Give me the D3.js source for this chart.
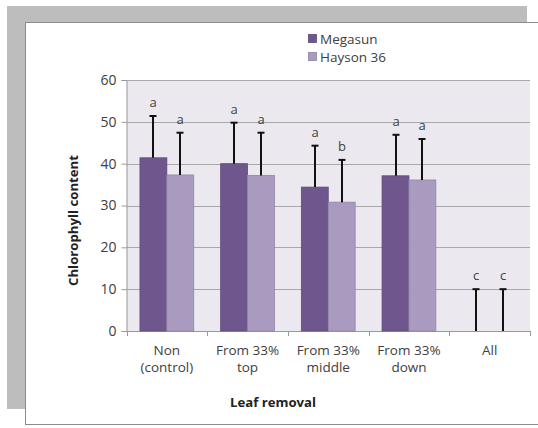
<!DOCTYPE html>
<html><head><meta charset="utf-8">
<script src="https://cdn.jsdelivr.net/npm/d3@7"></script>
<style>body{margin:0;background:#fff}svg{display:block}text{font-family:"Open Sans",sans-serif}</style>
</head><body><svg id="c" width="538" height="428"></svg>
<script>
const categories = [["Non","(control)"],["From 33%","top"],["From 33%","middle"],["From 33%","down"],["All"]];
const series = ["Megasun","Hayson 36"];
const megasun = [41.4, 40.0, 34.4, 37.1, 0];
const hayson = [37.3, 37.2, 30.8, 36.1, 0];
const megasunErr = [51.4, 49.8, 44.3, 46.9, 10.0];
const haysonErr = [47.4, 47.4, 40.9, 45.9, 10.0];
const megasunLetters = ["a","a","a","a","c"];
const haysonLetters = ["a","a","b","a","c"];
const yTicks = [0,10,20,30,40,50,60];
const colors = ["#6F578E","#A99BC0"];

const svg = d3.select("#c");
// frame
svg.append("rect").attr("x",7).attr("y",6).attr("width",520).attr("height",403).attr("fill","#BDBDBD");
svg.append("rect").attr("x",25.5).attr("y",22.5).attr("width",530).attr("height",402).attr("fill","#fff").attr("stroke","#8C8C8C").attr("stroke-width",1);

const L=126.5, R=530, T=80, B=331;
const x0 = d3.scaleBand().domain(d3.range(categories.length)).range([L,R]).padding(0);
const bw = x0.bandwidth();
const x1 = d3.scaleBand().domain(series).range([bw/6, bw*5/6]).padding(0);
const y = d3.scaleLinear().domain([0,60]).range([B,T]);

svg.append("rect").attr("x",L).attr("y",T).attr("width",R-L).attr("height",B-T).attr("fill","#EBE9EF");
svg.append("g").selectAll("line").data(yTicks.filter(d=>d>0)).join("line")
  .attr("x1",L).attr("x2",R).attr("y1",d=>Math.round(y(d))+0.5).attr("y2",d=>Math.round(y(d))+0.5)
  .attr("stroke","#A8A8A8").attr("stroke-width",1);

// y axis
const ya = svg.append("g").attr("transform",`translate(${L},0)`)
  .call(d3.axisLeft(y).tickValues(yTicks).tickSize(5).tickPadding(5));
ya.select(".domain").attr("stroke","#9A9A9A");
ya.selectAll(".tick line").attr("stroke","#9A9A9A");
ya.selectAll("text").attr("font-size",14).attr("fill","#404040").attr("font-family","Open Sans");

// x axis
const xa = svg.append("g").attr("transform",`translate(0,${B})`);
xa.append("line").attr("x1",L).attr("x2",R).attr("y1",0.5).attr("y2",0.5).attr("stroke","#9A9A9A");
const bounds = d3.range(categories.length+1).map(i=> i<categories.length ? x0(i) : x0(categories.length-1)+bw);
xa.selectAll("line.t").data(bounds).join("line").attr("class","t")
  .attr("x1",d=>Math.round(d)+0.5).attr("x2",d=>Math.round(d)+0.5).attr("y1",0).attr("y2",5).attr("stroke","#9A9A9A");
categories.forEach((c,i)=>{
  c.forEach((line,j)=>svg.append("text").attr("x",x0(i)+bw/2).attr("y",350+j*17).attr("dy","0.35em")
    .attr("text-anchor","middle").attr("font-size",13.5).attr("fill","#404040").text(line));
});

const data = [megasun, hayson];
const errs = [megasunErr, haysonErr];
const letters = [megasunLetters, haysonLetters];
series.forEach((s,si)=>{
  const g = svg.append("g");
  g.selectAll("rect").data(data[si]).join("rect")
    .attr("x",(d,i)=>x0(i)+x1(s)).attr("width",x1.bandwidth())
    .attr("y",d=>y(d)).attr("height",d=>B-y(d))
    .attr("fill",colors[si]).attr("stroke",d3.color(colors[si]).darker(0.4)).attr("stroke-width",d=>d>0?0.8:0);
});
series.forEach((s,si)=>{
  const g = svg.append("g");
  data[si].forEach((v,i)=>{
    const cx = Math.round(x0(i)+x1(s)+x1.bandwidth()/2)+0.0;
    g.append("line").attr("x1",cx).attr("x2",cx).attr("y1",y(v)).attr("y2",y(errs[si][i])).attr("stroke","#111").attr("stroke-width",2);
    g.append("line").attr("x1",cx-3.5).attr("x2",cx+3.5).attr("y1",y(errs[si][i])).attr("y2",y(errs[si][i])).attr("stroke","#111").attr("stroke-width",2);
    g.append("text").attr("x",cx).attr("y",y(errs[si][i])-9).attr("text-anchor","middle").attr("font-size",13).attr("fill","#404040").text(letters[si][i]);
  });
});

// legend
const lg = svg.append("g");
series.forEach((s,i)=>{
  lg.append("rect").attr("x",308.5).attr("y",34.5+i*18).attr("width",8).attr("height",8).attr("fill",colors[i]).attr("stroke",d3.color(colors[i]).darker(0.5)).attr("stroke-width",0.8);
  lg.append("text").attr("x",320).attr("y",39+i*18).attr("dy","0.35em").attr("font-size",13.5).attr("fill","#404040").text(s);
});

// titles
svg.append("text").attr("transform",`translate(73,${(T+B)/2+15}) rotate(-90)`).attr("text-anchor","middle").attr("dy","0.35em")
  .attr("font-size",13.2).attr("font-weight","bold").attr("fill","#222").text("Chlorophyll content");
svg.append("text").attr("x",273).attr("y",402).attr("dy","0.35em").attr("text-anchor","middle")
  .attr("font-size",13.2).attr("font-weight","bold").attr("fill","#222").text("Leaf removal");
</script></body></html>
